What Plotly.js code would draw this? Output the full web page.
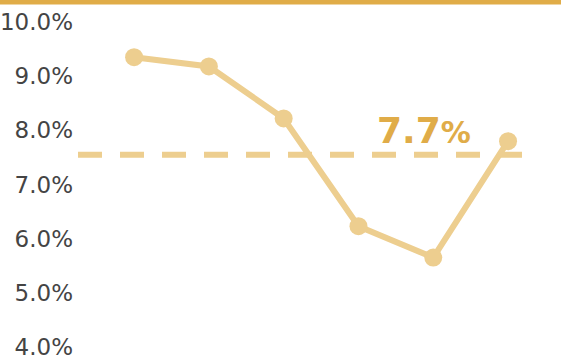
<!DOCTYPE html>
<html>
<head>
<meta charset="utf-8">
<script src="https://cdn.plot.ly/plotly-3.0.1.min.js"></script>
<style>html,body{margin:0;padding:0;background:#fff;}#chart{width:561px;height:363px;}</style>
</head>
<body>
<div id="chart"></div>
<script>
const categories = [0, 1, 2, 3, 4, 5];
const values = [9.35, 9.18, 8.22, 6.23, 5.65, 7.80];
const averageLine = 7.55;
const averageLabel = "7.7";
const yTicks = [4, 5, 6, 7, 8, 9, 10];
const yTickLabels = ["4.0%", "5.0%", "6.0%", "7.0%", "8.0%", "9.0%", "10.0%"];

const lineColor = "#EDCE8F";
const gold = "#E0AC48";

const trace = {
  x: categories,
  y: values,
  type: "scatter",
  mode: "lines+markers",
  line: {color: lineColor, width: 6},
  marker: {color: lineColor, size: 18},
  hoverinfo: "skip",
  cliponaxis: false
};

const layout = {
  width: 561,
  height: 363,
  margin: {l: 78, r: 38, t: 22, b: 16, pad: 0},
  paper_bgcolor: "#ffffff",
  plot_bgcolor: "#ffffff",
  showlegend: false,
  xaxis: {
    range: [-0.75, 5.2],
    visible: false,
    fixedrange: true
  },
  yaxis: {
    range: [4, 10],
    tickmode: "array",
    tickvals: yTicks,
    ticktext: yTickLabels,
    showgrid: false,
    zeroline: false,
    showline: false,
    ticks: "",
    ticklabelstandoff: 4,
    tickfont: {family: "DejaVu Sans", size: 23, color: "#444444"},
    fixedrange: true
  },
  shapes: [
    {
      type: "line", xref: "paper", yref: "y",
      x0: 0, x1: 1, y0: averageLine, y1: averageLine,
      line: {color: lineColor, width: 6, dash: "24px,18px"},
      layer: "below"
    },
    {
      type: "rect", xref: "paper", yref: "paper",
      xsizemode: "pixel", ysizemode: "pixel",
      xanchor: 0, yanchor: 1,
      x0: -80, x1: 500, y0: 17.5, y1: 23,
      line: {width: 0}, fillcolor: gold
    }
  ],
  annotations: [
    {
      x: 3.22, y: 8.0, xref: "x", yref: "y",
      xanchor: "left", yanchor: "middle",
      showarrow: false,
      text: "<b>" + averageLabel + "</b><span style='font-size:30px'><b>%</b></span>",
      font: {family: "DejaVu Sans", size: 36, color: gold}
    }
  ]
};

Plotly.newPlot("chart", [trace], layout, {displayModeBar: false, staticPlot: true});
</script>
</body>
</html>
